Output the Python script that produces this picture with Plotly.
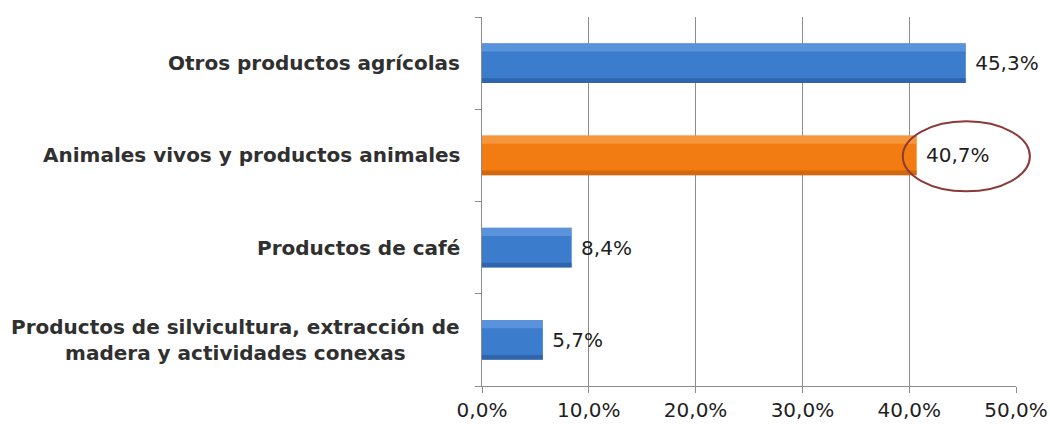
import plotly.graph_objects as go

categories = [
    "Productos de silvicultura, extracción de<br>madera y actividades conexas",
    "Productos de café",
    "Animales vivos y productos animales",
    "Otros productos agrícolas",
]
values = [5.7, 8.4, 40.7, 45.3]
highlight = "Animales vivos y productos animales"
x_ticks = [0, 10, 20, 30, 40, 50]
x_ticktext = [f"{v:.1f}%".replace(".", ",") for v in x_ticks]

BLUE = "#3c7ccc"
BLUE_LIGHT = "rgba(120,170,235,0.5)"
BLUE_DARK = "rgba(35,75,140,0.5)"
ORANGE = "#f27b12"
ORANGE_LIGHT = "rgba(252,175,100,0.5)"
ORANGE_DARK = "rgba(170,80,10,0.45)"
FONT = "DejaVu Sans, sans-serif"
FS = 20
TXT = "#1e1e1e"
LABEL_TXT = "#303030"

is_hi = [c == highlight for c in categories]
colors = [ORANGE if h else BLUE for h in is_hi]
lights = [ORANGE_LIGHT if h else BLUE_LIGHT for h in is_hi]
darks = [ORANGE_DARK if h else BLUE_DARK for h in is_hi]

BW = 0.43
fig = go.Figure()
fig.add_trace(go.Bar(
    x=values, y=categories, orientation="h",
    marker=dict(color=colors, line=dict(width=0)),
    texttemplate="\u00a0%{x:.1f}%",
    textposition="outside",
    textfont=dict(family=FONT, size=FS, color=TXT),
    cliponaxis=False,
    width=BW, offset=-BW / 2,
    hoverinfo="skip",
))
# top highlight stripe
fig.add_trace(go.Bar(
    x=values, y=categories, orientation="h",
    marker=dict(color=lights, line=dict(width=0)),
    width=0.09, offset=BW / 2 - 0.09, hoverinfo="skip",
))
# bottom shade stripe
fig.add_trace(go.Bar(
    x=values, y=categories, orientation="h",
    marker=dict(color=darks, line=dict(width=0)),
    width=0.05, offset=-BW / 2, hoverinfo="skip",
))

xmax = 50
fig.update_layout(
    width=1050,
    height=427,
    margin=dict(l=482, r=34, t=17, b=41),
    paper_bgcolor="white",
    plot_bgcolor="white",
    separators=",.",
    showlegend=False,
    barmode="overlay",
    font=dict(family=FONT, size=FS, color=TXT),
)
fig.update_xaxes(
    range=[0, xmax],
    tickvals=x_ticks,
    ticktext=x_ticktext,
    automargin=False,
    showgrid=True,
    gridcolor="#8c8c8c",
    gridwidth=1,
    showline=True,
    linecolor="#8c8c8c",
    ticks="outside",
    ticklen=6,
    tickcolor="#8c8c8c",
    tickfont=dict(family=FONT, size=FS, color=TXT),
    zeroline=False,
)
fig.update_yaxes(
    automargin=False,
    showline=True,
    linecolor="#8c8c8c",
    ticks="outside",
    tickson="boundaries",
    ticklen=6,
    tickcolor="#8c8c8c",
    showticklabels=False,
    showgrid=False,
)

# category labels as centred annotations
for c in categories:
    fig.add_annotation(
        x=0, xref="paper", y=c, yref="y",
        text=c, showarrow=False, xanchor="right", align="center",
        xshift=-20, font=dict(family=FONT, size=FS, color=LABEL_TXT, weight="bold"),
    )

# ellipse around highlighted value label
hi = categories.index(highlight)
hv = values[hi]
fig.add_shape(
    type="circle",
    xref="paper", yref="y",
    x0=(hv - 1.3) / xmax, x1=(hv + 10.6) / xmax,
    y0=hi - 0.39, y1=hi + 0.37,
    line=dict(color="#8b3a3a", width=2),
)

fig.write_html("out.html")
